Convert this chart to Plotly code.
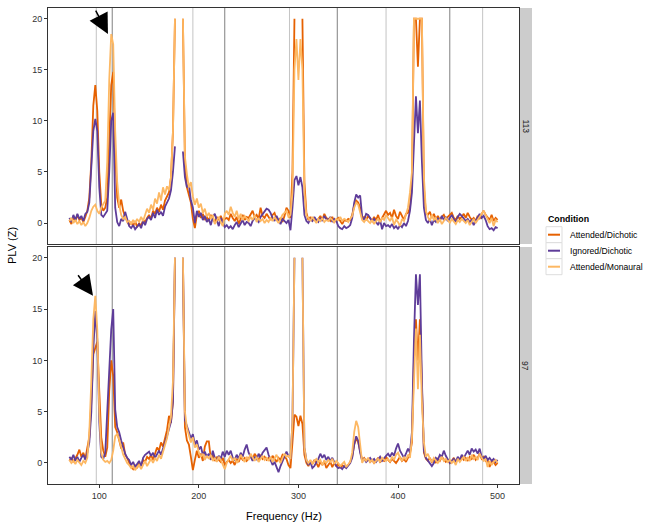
import plotly.graph_objects as go

N = None
freq = list(range(70, 501, 2))
conditions = ["Attended/Dichotic", "Ignored/Dichotic", "Attended/Monaural"]
colors = ["#E66101", "#5E3C99", "#FDB863"]
panels = ["113", "97"]
harm97 = [97, 194, 291, 388, 485]
harm113 = [113, 226, 339, 452]
x_ticks = [100, 200, 300, 400, 500]
y_ticks = [0, 5, 10, 15, 20]
arrow_x = [108.7, 93.7]
arrow_y = [18.5, 16.3]

# ---- panel 113 ----
top_att_dich = [
    0.3, -0.1, 0.6, 0.2, 0.8, 0.3, 0.5, 0.1, 0.6, 1.2,
    2.5, 6.0, 11.5, 13.5, 11.0, 5.0, 1.8, 1.2, 1.5, 2.5,
    8.0, 13.5, 14.8, 7.0, 2.5, 1.5, 2.3, 1.2, 0.6, 0.2,
    -0.2, 0.1, -0.3, 0.2, -0.4, 0.0, -0.3, 0.3, 0.1, 0.5,
    0.8, 0.4, 1.2, 0.9, 1.5, 1.1, 1.8, 1.3, 2.2, 2.6,
    3.0, 4.5, 9.0, 20, N, N, N, 20, 6.0, 3.5,
    2.6, 2.0, 0.4, -0.5, 0.8, 1.2, 0.5, 0.9, 0.3, 0.6,
    0.2, 0.8, 0.4, 0.1, 0.6, 0.3, 0.7, 0.2, 0.4, 0.5,
    0.3, 0.9, 0.5, 0.2, 0.6, -0.1, 0.4, 0.8, 0.3, 0.6,
    0.5, 0.9, 1.2, 0.6, 0.8, 0.4, 1.5, 0.7, 0.5, 0.9,
    0.6, 0.3, 0.8, 1.0, 0.4, 0.2, 0.5, 0.1, 0.7, 1.5,
    1.2, 0.5, 5.0, 20, N, N, N, 20, 4.0, 1.0,
    0.3, 0.6, 0.2, 0.5, 0.1, 0.4, 0.7, 0.3, 0.9, 0.5,
    0.4, 0.2, 0.6, 0.1, 0.3, 0.5, 0.2, -0.1, 0.3, 0.2,
    0.4, 0.3, 0.8, 1.8, 2.2, 2.0, 1.5, 0.4, 0.6, 0.3,
    0.7, 0.4, 0.2, 0.6, 0.3, 0.8, 0.1, 0.5, 0.9, 1.2,
    0.8, 1.0, 0.5, 1.3, 0.7, 0.4, 1.1, 0.6, 0.3, 0.9,
    1.0, 1.5, 4.0, 20, 20, 15.3, 20, 20, 3.5, 1.0,
    0.8, 1.1, 0.5, 0.9, 0.4, 0.7, 0.3, 0.6, 0.8, 0.4,
    0.6, 0.9, 1.0, 0.5, 0.3, 0.7, 0.4, 0.6, 0.9, 0.5,
    1.0, 0.6, 0.3, 0.5, 0.2, 0.7, 0.4, 0.9, 1.2, 0.8,
    0.6, 0.3, 0.8, 0.2, 0.5, 0.3,
]
top_ign_dich = [
    0.5, 0.1, 0.8, 0.3, 0.9, 0.4, 0.7, 0.2, 0.9, 1.1,
    2.0, 5.0, 9.0, 10.2, 9.0, 3.5, 0.8, 0.6, 0.9, 1.2,
    5.0, 10.0, 10.8, 1.5, 0.1, -0.3, 0.4, 0.2, 1.1, 0.3,
    -0.3, -0.5, -0.2, -0.6, -0.4, -0.1, -0.5, 0.2, -0.2, 0.4,
    0.6, 0.3, 1.0, 0.5, 1.3, 0.8, 1.1, 0.7, 1.6, 2.0,
    2.4, 3.2, 5.0, 7.5, N, N, N, 7.0, 4.5, 3.5,
    3.8, 2.2, 1.5, 0.0, 1.2, 0.6, 1.0, 0.3, 0.7, 0.1,
    0.4, -0.2, 0.6, 0.9, 0.2, -0.3, 0.5, 0.1, -0.4, -0.2,
    -0.5, -0.3, -0.6, -0.2, 0.1, -0.4, 0.0, 0.3, -0.2, 0.1,
    0.0, -0.3, 0.2, 0.5, 0.3, 0.1, 0.6, 0.9, 1.2, 1.4,
    1.3, 1.0, 0.5, 0.2, 0.7, 0.3, -0.1, 0.4, 0.2, 0.0,
    0.3, -0.7, 1.5, 4.2, 4.6, 3.7, 4.5, 3.5, 0.8, 0.2,
    0.0, 0.4, 0.2, 0.6, 0.3, 0.1, 0.5, 0.2, 0.7, 0.4,
    0.3, 0.6, 0.1, 0.4, 0.2, -0.3, -0.5, -0.6, -0.3, -0.5,
    -0.4, -0.2, 0.5, 2.0, 2.8, 2.5, 2.7, 0.6, 0.3, 0.9,
    0.8, 0.5, 0.2, 0.4, 0.1, -0.2, 0.3, -0.6, 0.0, -0.3,
    -0.2, -0.4, -0.1, -0.5, -0.3, -0.6, -0.2, -0.4, 0.0, -0.3,
    0.2, 1.2, 3.0, 8.0, 12.4, 8.8, 12.0, 6.0, 1.5, 0.3,
    0.0, 0.4, -0.2, 0.3, 0.1, 0.5, 0.2, 0.7, 0.3, 0.6,
    0.2, 0.5, 0.8, 0.4, 0.1, 0.6, 0.9, 0.7, 0.5, 0.2,
    0.4, 0.1, 0.3, -0.2, 0.2, 0.6, 0.9, 0.5, 0.7, 0.3,
    -0.3, -0.6, -0.5, -0.7, -0.4, -0.5,
]
top_att_mon = [
    0.2, 0.5, 0.0, 0.3, -0.1, 0.2, -0.2, 0.1, -0.3, 0.0,
    0.5, 1.2, 1.6, 1.8, 1.2, 0.9, 1.5, 1.8, 2.2, 6.0,
    14.0, 18.5, 17.5, 9.0, 4.0, 1.8, 0.8, 0.4, 0.6, 0.1,
    0.2, -0.1, 0.3, 0.0, 0.4, 0.1, 0.6, 0.2, 0.9, 1.4,
    1.0, 1.8, 1.3, 2.4, 1.9, 3.0, 2.2, 3.5, 2.8, 3.6,
    3.2, 4.5, 9.0, 20, N, N, N, 20, 6.5, 4.8,
    3.5, 4.0, 2.6, 1.8, 2.4, 1.5, 1.9, 1.0, 1.4, 0.6,
    1.0, 0.4, 0.8, -0.1, 0.3, 0.6, 0.1, -0.3, 0.9, 1.2,
    0.8, 1.6, 1.0, 0.6, 1.2, 0.4, 0.9, 0.3, 0.7, 0.5,
    0.2, 0.6, 0.3, 0.8, 0.1, 0.5, 0.2, 0.4, 0.0, 0.3,
    0.1, 0.5, 0.2, 0.6, 0.3, 0.0, 0.4, 0.8, 1.0, 1.2,
    0.6, 0.8, 3.0, 15.0, 18.0, 14.0, 18.0, 15.0, 3.0, 0.7,
    0.5, 0.2, 0.6, 0.3, 0.0, 0.4, 0.2, 0.5, 0.1, 0.3,
    0.2, 0.5, 0.3, 0.1, 0.4, 0.3, 0.6, 0.2, 0.4, 0.3,
    0.1, 0.4, 0.7, 1.5, 2.0, 1.8, 1.0, 0.3, 0.1, 0.4,
    0.2, 0.0, 0.3, -0.1, 0.2, 0.4, 0.1, 0.5, 0.3, 0.8,
    0.5, 0.2, 0.6, -0.2, 0.3, 0.1, -0.3, 0.4, 0.2, 0.9,
    1.5, 3.0, 5.0, 20, 20, 20, 20, 20, 4.5, 1.2,
    0.6, 0.2, 0.8, 0.3, 0.5, 0.0, 0.4, -0.1, 0.2, 0.5,
    0.3, 0.0, 0.4, 0.2, -0.1, 0.3, 0.1, 0.4, 0.2, 0.0,
    0.3, -0.2, 0.1, 0.4, 0.0, 0.3, 0.6, 1.0, 1.2, 0.8,
    0.4, 0.0, 0.5, -0.3, 0.3, 0.1,
]

# ---- panel 97 ----
bot_att_dich = [
    0.2, 0.5, 0.1, 0.4, 0.8, 1.3, 0.6, 1.0, 0.4, 1.5,
    2.5, 6.0, 10.6, 11.2, 11.8, 7.0, 2.5, 1.2, 0.6, 1.5,
    7.0, 10.0, 8.5, 3.5, 3.0, 2.2, 1.4, 2.0, 0.8, 0.5,
    0.1, -0.4, -0.6, -0.2, -0.5, 0.0, -0.3, 0.3, 0.1, 0.6,
    0.4, 0.8, 0.3, 1.0, 1.5, 1.2, 2.0, 1.6, 2.5, 3.2,
    4.6, 3.9, 6.0, 20, N, N, N, 20, 3.5, 2.2,
    1.8, 0.6, -0.7, 0.3, 1.2, 0.5, 0.9, 0.2, 1.6, 2.1,
    2.1, 0.4, 0.8, 0.2, 0.6, 0.3, 0.1, 0.5, -0.2, 0.1,
    0.3, 0.0, 0.2, -0.2, 0.4, 0.1, 0.6, 0.3, 0.5, 0.2,
    0.4, 0.7, 0.3, 0.9, 0.6, 0.2, 0.8, 0.4, 0.6, 0.3,
    0.5, 0.2, 0.7, 0.4, 0.1, 0.5, 0.3, 0.8, 0.6, 0.4,
    -0.2, -0.5, 2.0, 4.7, 4.5, 3.6, 4.6, 3.8, 0.8, 0.0,
    -0.3, 0.2, -0.1, 0.3, 0.0, -0.4, 0.1, -0.2, 0.2, -0.5,
    -0.2, 0.1, -0.4, 0.0, -0.3, -0.1, -0.5, -0.2, -0.4, -0.3,
    -0.2, 0.1, 0.6, 1.8, 2.4, 2.0, 1.2, 0.3, 0.5, 0.2,
    0.4, 0.1, 0.3, 0.0, 0.2, 0.5, 0.1, 0.3, 0.2, 0.6,
    0.3, 0.1, 0.4, 0.2, 0.0, 0.3, 0.6, 0.2, 0.4, 0.1,
    0.5, 0.9, 2.0, 10.0, 14.0, 10.0, 14.0, 6.0, 1.0, 0.4,
    0.2, 0.5, 0.1, 0.3, 0.0, 0.4, 0.2, 0.6, 0.3, 0.1,
    0.3, 0.0, 0.2, 0.5, 0.1, 0.4, 0.2, 0.6, 0.3, 0.5,
    0.2, 0.6, 0.4, 0.8, 0.3, 0.5, 0.9, 0.4, 0.6, 0.2,
    0.3, -0.4, 0.2, 0.1, -0.2, 0.0,
]
bot_ign_dich = [
    0.6, 0.3, 0.8, 0.2, 0.6, 0.1, 0.5, 0.8, 0.3, 1.0,
    2.0, 5.0, 11.0, 14.8, 12.0, 4.0, 0.6, 0.4, 1.0, 5.0,
    9.2, 13.0, 15.0, 5.2, 3.5, 3.0, 2.2, 1.5, 0.9, 0.5,
    0.3, -0.2, 0.1, -0.4, -0.1, 0.2, -0.3, 0.5, 0.8, 1.0,
    1.1, 0.7, 1.0, 0.5, 0.9, 1.2, 0.8, 1.5, 2.0, 2.6,
    3.2, 4.0, 6.0, 20, N, N, N, 20, 4.2, 3.6,
    3.0, 2.4, 2.8, 1.8, 2.2, 1.3, 1.6, 0.8, 1.1, 0.6,
    0.9, 0.3, 1.2, 0.5, 0.2, 0.7, 0.4, 1.1, 0.6, 1.2,
    0.8, 1.2, 0.5, 0.3, 0.8, 0.4, 1.0, 0.6, 1.3, 1.8,
    1.0, 0.5, 0.2, 0.6, 0.3, 0.9, 0.5, 1.0, 1.2, 1.5,
    0.8, 0.3, -0.2, 0.1, -0.5, -0.9, -0.3, 0.2, 0.6, 1.1,
    0.7, 0.4, 4.0, 20, N, N, N, 20, 1.5, 0.3,
    -0.2, 0.1, -0.5, -0.3, 0.0, 0.4, 0.9, 0.5, 0.8, 0.3,
    0.6, 0.2, 0.5, 0.1, -0.3, -0.5, -0.4, -0.6, -0.3, -0.5,
    -0.3, 0.0, 0.5, 1.8, 2.6, 2.2, 1.0, 0.2, 0.4, 0.1,
    0.3, 0.5, 0.2, 0.4, 0.1, 0.3, 0.6, 0.2, 0.5, 0.7,
    0.9, 0.6, 1.0, 0.7, 1.4, 1.9, 1.2, 0.8, 0.5, 0.9,
    1.4, 1.0, 3.0, 12.0, 18.4, 15.4, 18.4, 8.0, 1.2, 0.5,
    0.2, -0.1, -0.3, 0.0, 0.5, 0.3, 0.8, 0.6, 1.2, 0.7,
    0.3, 0.0, 0.2, 0.4, 0.1, 0.6, 0.3, 0.8, 0.5, 0.9,
    1.2, 0.8, 1.4, 1.1, 1.3, 0.9, 1.4, 0.6, 0.4, 0.7,
    0.3, 0.5, 0.2, 0.4, 0.1, 0.3,
]
bot_att_mon = [
    0.3, 0.0, 0.2, -0.1, 0.3, 0.1, -0.2, 0.2, 0.0, 0.5,
    3.0, 8.0, 14.0, 16.3, 13.0, 5.0, 1.0, 0.3, 0.1, 0.2,
    0.0, 0.3, 1.2, 2.6, 2.8, 2.3, 1.5, 0.8, 0.4, 0.0,
    -0.2, -0.5, -0.3, -0.7, -0.4, -0.2, -0.6, -0.1, 0.2, -0.3,
    0.1, 0.4, 0.0, 0.5, 0.2, 0.8, 0.4, 1.0, 1.6, 2.4,
    3.5, 4.5, 8.0, 20, N, N, N, 20, 5.0, 3.4,
    2.8, 2.0, 2.5, 1.5, 1.8, 1.0, 0.6, 0.9, 0.3, 0.7,
    0.4, 0.8, 0.2, 0.5, 0.1, 0.6, 0.3, -0.2, -0.6, 0.0,
    0.4, 0.7, 0.2, 0.5, 0.0, 0.3, 0.8, 0.4, 0.1, 0.6,
    0.3, 0.9, 0.5, 0.2, 0.6, 0.1, 0.4, 0.7, 0.3, 0.5,
    0.2, 0.6, 0.1, 0.4, 0.8, 0.3, 0.0, 0.5, 0.9, 0.6,
    0.7, 0.4, 4.0, 20, N, N, N, 20, 1.5, 0.3,
    0.0, 0.3, -0.1, 0.2, 0.4, 0.1, 0.3, -0.2, 0.2, 0.0,
    0.3, 0.1, 0.4, -0.1, 0.2, 0.0, -0.3, -0.1, 0.1, -0.4,
    -0.2, 0.1, 1.0, 3.0, 4.1, 3.5, 1.8, 0.0, 0.4, 0.2,
    0.5, 0.1, 0.3, 0.0, 0.2, 0.4, 0.1, 0.5, 0.3, 0.2,
    0.4, 0.1, 0.6, 0.3, 0.8, 1.0, 0.5, 0.2, 0.6, 0.3,
    0.8, 0.5, 2.5, 9.0, 13.1, 7.2, 12.5, 6.0, 2.0, 0.6,
    0.9, 0.4, 0.1, 0.5, 0.2, 0.0, 0.3, 0.6, 0.2, 0.4,
    0.1, 0.3, 0.0, 0.2, -0.2, 0.4, 0.1, 0.3, 0.6, 0.2,
    0.5, 0.2, 0.8, 0.4, 0.6, 0.3, 0.9, 0.5, 0.2, 0.4,
    -0.4, 0.2, -0.2, 0.1, 0.3, 0.0,
]

series = {
    "113": [top_att_dich, top_ign_dich, top_att_mon],
    "97": [bot_att_dich, bot_ign_dich, bot_att_mon],
}
for k, v in series.items():
    for s in v:
        assert len(s) == len(freq), (k, len(s))

FONT = "Liberation Sans, Arial, Helvetica, sans-serif"
W, H = 649, 531
L, R, T, B = 48, 130, 8, 47
PW, PH = W - L - R, H - T - B
XR = [48.5, 521.5]
YR = [-2.05, 21.05]

def px_x(p):
    return (p - L) / PW

def px_y(p):
    return (H - B - p) / PH

top_dom = [px_y(244), 1.0]
bot_dom = [0.0, px_y(247)]

fig = go.Figure()
axes = [("x", "y"), ("x2", "y2")]
for pi, panel in enumerate(panels):
    xa, ya = axes[pi]
    for ci, cond in enumerate(conditions):
        fig.add_trace(go.Scatter(
            x=freq, y=series[panel][ci], mode="lines", name=cond,
            line=dict(color=colors[ci], width=1.8),
            xaxis=xa, yaxis=ya, showlegend=False, connectgaps=False,
            hoverinfo="skip"))

shapes = []
for pi in range(2):
    xa, ya = axes[pi]
    for h in harm97:
        shapes.append(dict(type="line", xref=xa, yref=ya + " domain", x0=h, x1=h, y0=0, y1=1,
                           line=dict(color="#C4C4C4", width=1), layer="below"))
    for h in harm113:
        shapes.append(dict(type="line", xref=xa, yref=ya + " domain", x0=h, x1=h, y0=0, y1=1,
                           line=dict(color="#808080", width=1), layer="below"))

# facet strips
strip_x0, strip_x1 = 1.0, px_x(532)
annotations = []
for pi, panel in enumerate(panels):
    dom = top_dom if pi == 0 else bot_dom
    shapes.append(dict(type="rect", xref="paper", yref="paper", x0=strip_x0 + 0.001, x1=strip_x1,
                       y0=dom[0], y1=dom[1], fillcolor="#CCCCCC", line=dict(width=0), layer="below"))
    annotations.append(dict(text=panel, xref="paper", yref="paper", x=(strip_x0 + strip_x1) / 2,
                            y=(dom[0] + dom[1]) / 2, showarrow=False, textangle=90,
                            font=dict(family=FONT, size=8.5, color="#1A1A1A"),
                            xanchor="center", yanchor="middle"))

# arrows
for pi in range(2):
    xa, ya = axes[pi]
    ax, ay = (-13, -25) if pi == 0 else (-16, -22)
    annotations.append(dict(x=arrow_x[pi], y=arrow_y[pi], xref=xa, yref=ya, ax=ax, ay=ay,
                            showarrow=True, arrowhead=2, arrowsize=2.7, arrowwidth=1.5,
                            arrowcolor="black", standoff=0, text=""))

# axis titles
annotations.append(dict(text="PLV (Z)", xref="paper", yref="paper", x=px_x(12), y=0.5,
                        showarrow=False, textangle=-90, font=dict(family=FONT, size=11, color="#000000"),
                        xanchor="center", yanchor="middle"))
annotations.append(dict(text="Frequency (Hz)", xref="paper", yref="paper", x=0.5, y=px_y(516),
                        showarrow=False, font=dict(family=FONT, size=11, color="#000000"),
                        xanchor="center", yanchor="middle"))

# manual legend
annotations.append(dict(text="<b>Condition</b>", xref="paper", yref="paper", x=px_x(545.5), y=px_y(218.5),
                        showarrow=False, font=dict(family=FONT, size=8.8, color="#000000"),
                        xanchor="left", yanchor="middle"))
row_y = [234.7, 250.7, 266.7]
for ci, cond in enumerate(conditions):
    yc = row_y[ci]
    shapes.append(dict(type="rect", xref="paper", yref="paper", x0=px_x(546), x1=px_x(562),
                       y0=px_y(yc + 8), y1=px_y(yc - 8), fillcolor="white",
                       line=dict(color="#DDDDDD", width=1)))
    shapes.append(dict(type="line", xref="paper", yref="paper", x0=px_x(548), x1=px_x(560),
                       y0=px_y(yc), y1=px_y(yc), line=dict(color=colors[ci], width=2)))
    annotations.append(dict(text=cond, xref="paper", yref="paper", x=px_x(567.5), y=px_y(yc),
                            showarrow=False, font=dict(family=FONT, size=8.6, color="#000000"),
                            xanchor="left", yanchor="middle"))

axis_common = dict(showgrid=False, zeroline=False, showline=True, linecolor="#333333",
                   linewidth=1, mirror=True)
fig.update_layout(
    width=W, height=H, margin=dict(l=L, r=R, t=T, b=B),
    plot_bgcolor="white", paper_bgcolor="white", showlegend=False,
    font=dict(family=FONT, size=9, color="#333333"),
    xaxis=dict(domain=[0, 1], anchor="y", range=XR, showticklabels=False, ticks="",
               tickvals=x_ticks, **axis_common),
    yaxis=dict(domain=top_dom, anchor="x", range=YR, tickvals=y_ticks, ticks="outside",
               ticklen=3, tickcolor="#333333", tickfont=dict(family=FONT, size=9, color="#333333"),
               **axis_common),
    xaxis2=dict(domain=[0, 1], anchor="y2", range=XR, tickvals=x_ticks, ticks="outside",
                ticklen=3, tickcolor="#333333", tickfont=dict(family=FONT, size=9, color="#333333"),
                **axis_common),
    yaxis2=dict(domain=bot_dom, anchor="x2", range=YR, tickvals=y_ticks, ticks="outside",
                ticklen=3, tickcolor="#333333", tickfont=dict(family=FONT, size=9, color="#333333"),
                **axis_common),
    shapes=shapes, annotations=annotations,
)
fig.write_html("out.html", config={"displayModeBar": False},
               post_script="document.body.style.margin='0px';document.body.style.overflow='hidden';")
